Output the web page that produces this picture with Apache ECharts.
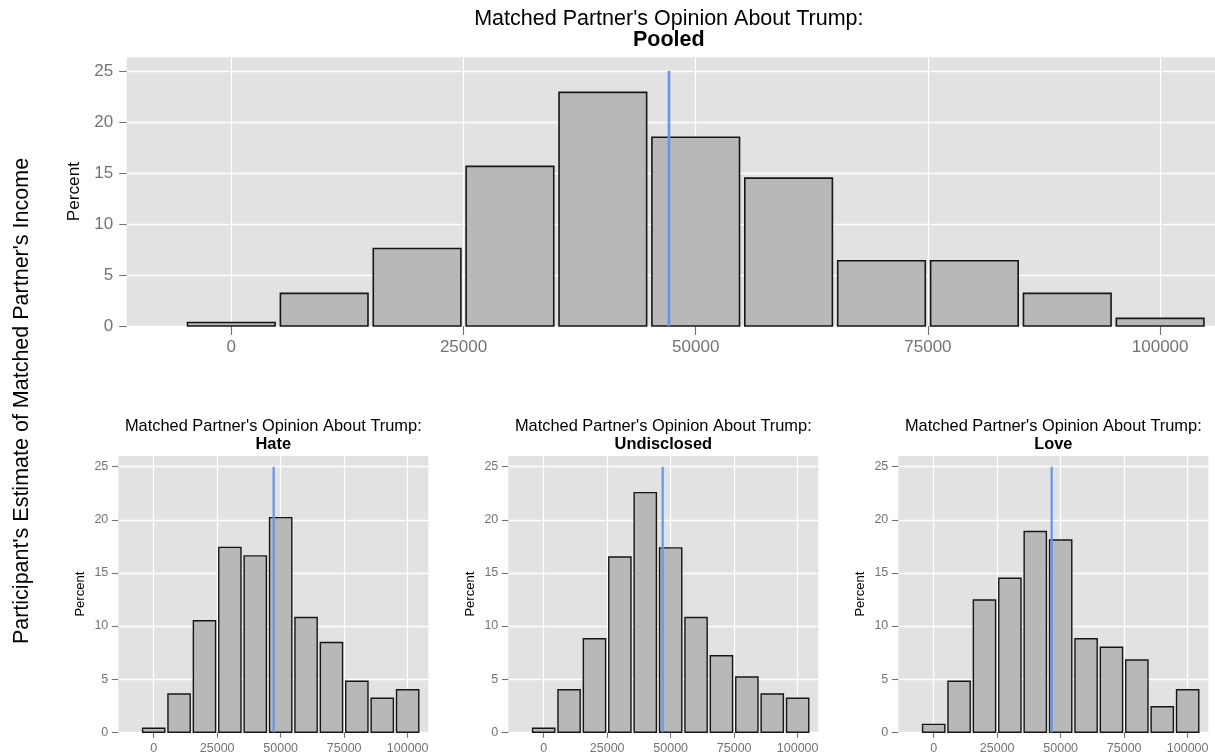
<!DOCTYPE html>
<html>
<head>
<meta charset="utf-8">
<script src="https://cdn.jsdelivr.net/npm/echarts@6/dist/echarts.min.js"></script>
<style>html,body{margin:0;padding:0;background:#fff}#c{width:1215px;height:756px}</style>
</head>
<body>
<div id="c"></div>
<script>
// ---- data ----
const bins = [0, 10000, 20000, 30000, 40000, 50000, 60000, 70000, 80000, 90000, 100000];
const pooled      = [0.35, 3.2, 7.6, 15.65, 22.9, 18.5, 14.5, 6.4, 6.4, 3.2, 0.75];
const hate        = [0.38, 3.6, 10.5, 17.4, 16.6, 20.2, 10.8, 8.45, 4.8, 3.2, 4.0];
const undisclosed = [0.38, 4.0, 8.8, 16.5, 22.55, 17.35, 10.8, 7.2, 5.2, 3.6, 3.2];
const love        = [0.75, 4.8, 12.45, 14.5, 18.9, 18.1, 8.8, 8.0, 6.8, 2.4, 4.0];
const meanLines = { pooled: 47120, hate: 47240, undisclosed: 46850, love: 46460 };
const panelNames = ['Pooled', 'Hate', 'Undisclosed', 'Love'];
const xTicks = [0, 25000, 50000, 75000, 100000];
const yTicks = [0, 5, 10, 15, 20, 25];
const titleLine = "Matched Partner's Opinion About Trump:";
const yName = 'Percent';
const outerName = "Participant's Estimate of Matched Partner's Income";

const FONT = "'Liberation Sans', Arial, Helvetica, sans-serif";
const panelBg = '#E2E2E2';
const tickGrey = '#737373';

// ---- layout (pixels) ----
const panels = [
  { left: 126.7, top: 57.3, width: 1088.3, height: 268.7, xmin: -11263, xmax: 105906, ymax: 26.34, hw: 4715, big: true },
  { left: 118.3, top: 456, width: 310, height: 276.3, xmin: -13930, xmax: 108130, ymax: 26.0, hw: 4375, big: false },
  { left: 508.3, top: 456, width: 310, height: 276.3, xmin: -13930, xmax: 108130, ymax: 26.0, hw: 4375, big: false },
  { left: 898.3, top: 456, width: 310, height: 276.3, xmin: -13930, xmax: 108130, ymax: 26.0, hw: 4375, big: false }
];
const seriesData = [pooled, hate, undisclosed, love];
const means = [meanLines.pooled, meanLines.hate, meanLines.undisclosed, meanLines.love];

const grids = [], xAxes = [], yAxes = [], series = [], graphics = [];
panels.forEach((p, i) => {
  const tickFs = p.big ? 17 : 12.5;
  grids.push({ left: p.left, top: p.top, width: p.width, height: p.height, show: true,
    backgroundColor: panelBg, borderWidth: 0, containLabel: false });
  xAxes.push({
    type: 'value', gridIndex: i, min: p.xmin, max: p.xmax, position: 'bottom',
    axisLine: { show: false, onZero: false },
    axisTick: { show: true, inside: false, length: p.big ? 9 : 5.5, lineStyle: { color: tickGrey, width: 1.1 }, customValues: xTicks },
    axisLabel: { color: tickGrey, fontSize: tickFs, fontFamily: FONT, margin: p.big ? 13 : 9.5,
      customValues: xTicks, formatter: v => String(v) },
    splitLine: { show: true, lineStyle: { color: '#FFFFFF', width: 1.3 } }
  });
  yAxes.push({
    type: 'value', gridIndex: i, min: 0, max: p.ymax, position: 'left',
    axisLine: { show: false, onZero: false },
    axisTick: { show: true, inside: false, length: p.big ? 7.5 : 6.5, lineStyle: { color: tickGrey, width: 1.1 }, customValues: yTicks },
    axisLabel: { color: tickGrey, fontSize: tickFs, fontFamily: FONT, margin: p.big ? 13.5 : 10,
      customValues: yTicks, formatter: v => String(v) },
    splitLine: { show: true, lineStyle: { color: '#FFFFFF', width: 1.3 } }
  });
  const hw = p.hw;
  series.push({
    type: 'custom', xAxisIndex: i, yAxisIndex: i, z: 2,
    data: bins.map((b, k) => [b, seriesData[i][k]]),
    renderItem: function (params, api) {
      const x = api.value(0), y = api.value(1);
      const a = api.coord([x - hw, y]);
      const b = api.coord([x + hw, 0]);
      return { type: 'rect',
        shape: { x: a[0], y: a[1], width: b[0] - a[0], height: b[1] - a[1] },
        style: { fill: '#B8B8B8', stroke: '#161616', lineWidth: p.big ? 1.6 : 1.4 } };
    }
  });
  series.push({
    type: 'line', xAxisIndex: i, yAxisIndex: i, z: 4, silent: true,
    data: [[means[i], 0], [means[i], 25]], symbol: 'none',
    lineStyle: { color: '#6495ED', width: p.big ? 2.6 : 2.2 }
  });
  const cx = p.left + p.width / 2;
  const tFs = p.big ? 21.5 : 16.4;
  graphics.push({ type: 'text', x: cx - (p.big ? 2 : 0), y: p.big ? 19.5 : 426.7,
    style: { text: titleLine, font: `${tFs}px ${FONT}`, fill: '#000', textAlign: 'center', textVerticalAlign: 'middle' } });
  graphics.push({ type: 'text', x: cx - (p.big ? 2 : 0), y: p.big ? 40.5 : 444.3,
    style: { text: panelNames[i], font: `bold ${tFs}px ${FONT}`, fill: '#000', textAlign: 'center', textVerticalAlign: 'middle' } });
  graphics.push({ type: 'text', x: p.big ? 74.3 : p.left - 38.3, y: p.top + p.height / 2,
    rotation: Math.PI / 2,
    style: { text: yName, font: `${p.big ? 17.2 : 13}px ${FONT}`, fill: '#000', textAlign: 'center', textVerticalAlign: 'middle' } });
});
graphics.push({ type: 'text', x: 22, y: 401, rotation: Math.PI / 2,
  style: { text: outerName, font: `21.5px ${FONT}`, fill: '#000', textAlign: 'center', textVerticalAlign: 'middle' } });

const chart = echarts.init(document.getElementById('c'), null, { renderer: 'canvas' });
chart.setOption({
  animation: false,
  backgroundColor: '#FFFFFF',
  grid: grids, xAxis: xAxes, yAxis: yAxes, series: series, graphic: graphics
});
</script>
</body>
</html>
